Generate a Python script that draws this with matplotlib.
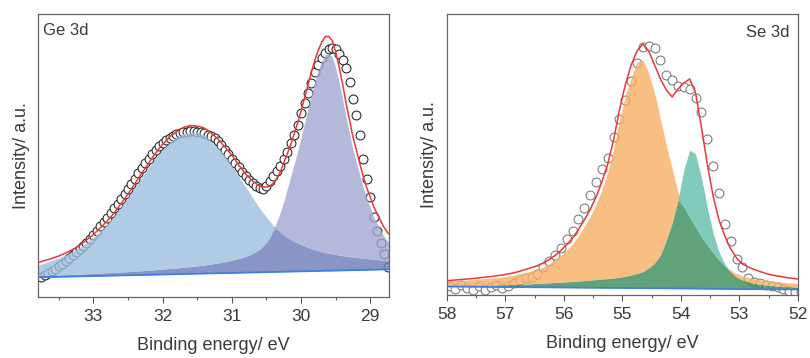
#!/usr/bin/env python3
"""Ge 3d / Se 3d XPS fits, two panels side by side."""

import numpy as np
import matplotlib

matplotlib.use("Agg")
import matplotlib.pyplot as plt
from matplotlib.ticker import MultipleLocator

# ---- Ge 3d --------------------------------------------------------------
GE_DATA_E = [
    33.75, 33.70, 33.65, 33.60, 33.55, 33.50, 33.45, 33.40, 33.35, 33.30,
    33.25, 33.20, 33.15, 33.10, 33.05, 33.00, 32.95, 32.90, 32.85, 32.80,
    32.75, 32.70, 32.65, 32.60, 32.55, 32.50, 32.45, 32.40, 32.35, 32.30,
    32.25, 32.20, 32.15, 32.10, 32.05, 32.00, 31.95, 31.90, 31.85, 31.80,
    31.75, 31.70, 31.65, 31.60, 31.55, 31.50, 31.45, 31.40, 31.35, 31.30,
    31.25, 31.20, 31.15, 31.10, 31.05, 31.00, 30.95, 30.90, 30.85, 30.80,
    30.75, 30.70, 30.65, 30.60, 30.55, 30.50, 30.45, 30.40, 30.35, 30.30,
    30.25, 30.20, 30.15, 30.10, 30.05, 30.00, 29.95, 29.90, 29.85, 29.80,
    29.75, 29.70, 29.65, 29.60, 29.55, 29.50, 29.45, 29.40, 29.35, 29.30,
    29.25, 29.20, 29.15, 29.10, 29.05, 29.00, 28.95, 28.90, 28.85, 28.80,
    28.75,
]
GE_DATA = [
    20, 22, 23.5, 25.5, 28, 30.5, 33, 36, 38.5, 41.5,
    44.5, 47.5, 50.5, 54, 58, 62, 66, 70.5, 74.5, 79,
    84, 88.5, 93, 98, 103, 108, 113, 118, 123.5, 129,
    134, 138, 143, 147, 151, 154, 157, 159, 161, 162.5,
    164, 164.5, 165, 165.5, 165.5, 165, 164.5, 163.5, 162, 160.5,
    158.5, 155.5, 151.5, 147, 142.5, 138, 134, 129.5, 125, 121,
    117, 113.5, 110.5, 108.5, 108, 111, 116, 121, 125.5, 131,
    138, 145, 154, 162, 172, 184, 194, 204, 214, 225,
    232, 239, 244, 247.5, 249, 247.5, 243, 237, 229, 215,
    198, 182, 162, 138, 118, 100, 80, 66, 54, 43,
    30,
]
GE_CURVE_E = [
    33.8, 33.7, 33.6, 33.5, 33.4, 33.3, 33.2, 33.1, 33.0, 32.9,
    32.8, 32.7, 32.6, 32.5, 32.4, 32.3, 32.2, 32.1, 32.0, 31.9,
    31.8, 31.7, 31.6, 31.5, 31.4, 31.3, 31.2, 31.1, 31.0, 30.9,
    30.8, 30.7, 30.6, 30.55, 30.5, 30.45, 30.4, 30.35, 30.3, 30.25,
    30.2, 30.15, 30.1, 30.05, 30.0, 29.95, 29.9, 29.85, 29.8, 29.75,
    29.7, 29.65, 29.6, 29.55, 29.5, 29.45, 29.4, 29.35, 29.3, 29.25,
    29.2, 29.15, 29.1, 29.05, 29.0, 28.95, 28.9, 28.85, 28.8, 28.75,
    28.7,
]
GE_FIT = [
    34.3, 36.5, 38.5, 41, 44, 47.5, 51.5, 57, 62.5, 69,
    76, 84, 93.5, 103, 113.5, 124, 134, 144, 152.5, 160,
    165.5, 169.5, 171.5, 171, 169, 164, 158, 150, 142, 132,
    123, 116, 111, 110, 110, 111, 114, 118.5, 125, 134,
    143, 152, 163, 174, 186, 199, 212, 225, 237, 247,
    255, 260.5, 260.5, 256.5, 245, 230, 213, 194, 177, 160,
    147, 133, 120.3, 109, 100, 90.3, 83, 76, 69.5, 64.5,
    61,
]
GE_PEAK1 = [
    32, 34, 36.5, 39, 42, 45.5, 49.5, 54.5, 60, 66,
    73, 81, 90, 99.5, 109.5, 119.5, 129.5, 139, 147.5, 154.5,
    160, 163.5, 165, 164.5, 162, 156, 149, 141, 131, 120.5,
    110, 99.5, 89, 84.5, 80, 75.5, 71.5, 68, 65, 62,
    59.5, 57.5, 55.5, 54, 52.5, 51, 49.5, 48.3, 47.2, 46.2,
    45.3, 44.5, 43.8, 43.1, 42.5, 41.9, 41.3, 40.8, 40.3, 39.9,
    39.5, 39.1, 38.7, 38.4, 38.1, 37.8, 37.5, 37.2, 36.9, 36.7,
    36.5,
]
GE_PEAK2 = [
    21.2, 21.5, 21.7, 22.0, 22.3, 22.5, 22.8, 23.2, 23.5, 23.9,
    24.3, 24.6, 25.0, 25.4, 25.9, 26.3, 26.8, 27.3, 27.9, 28.5,
    29.0, 29.7, 30.4, 31.2, 32.0, 33.0, 34.1, 35.3, 36.8, 38.5,
    40.6, 43.6, 47.7, 50.8, 54.9, 60, 67, 75.5, 84.3, 95.3,
    107.9, 120, 133, 145.6, 159.2, 173.8, 188.4, 202.7, 216.1, 227.2,
    236.3, 242.4, 243.2, 240, 229.1, 214.7, 198.5, 179.9, 163.7, 147.1,
    134.7, 121.3, 109, 98.1, 89.6, 80.2, 73.3, 66.7, 60.6, 55.8,
    52.6,
]
GE_BASE_E = [33.8, 28.7]
GE_BASE = [19.7, 27.7]

# ---- Se 3d --------------------------------------------------------------
SE_E = [
    58.05, 57.95, 57.85, 57.75, 57.65, 57.55, 57.45, 57.35, 57.25, 57.15,
    57.05, 56.95, 56.85, 56.75, 56.65, 56.55, 56.45, 56.35, 56.25, 56.15,
    56.05, 55.95, 55.85, 55.75, 55.65, 55.55, 55.45, 55.35, 55.25, 55.15,
    55.05, 54.95, 54.85, 54.75, 54.65, 54.55, 54.45, 54.35, 54.25, 54.15,
    54.05, 53.95, 53.85, 53.75, 53.65, 53.55, 53.45, 53.35, 53.25, 53.15,
    53.05, 52.95, 52.85, 52.75, 52.65, 52.55, 52.45, 52.35, 52.25, 52.15,
    52.05, 51.95,
]
SE_DATA = [
    8, 9, 6, 10, 7, 5, 9, 5, 8, 10,
    7, 9, 12, 15, 17, 18, 21, 28, 34, 40,
    47, 56, 64, 76, 87, 100, 113, 126, 137, 158,
    176, 195, 214, 232, 248, 248.5, 246.5, 235, 220, 215,
    209, 208, 206, 197, 183, 156, 129, 102, 71, 54,
    36, 28, 17, 13, 12, 10, 9, 8, 6, 4,
    3, 3,
]
SE_FIT = [
    14.0, 14.5, 15.0, 15.5, 16.0, 16.5, 17.1, 17.8, 18.4, 19.2,
    20.0, 21.0, 22.2, 23.8, 25.6, 27.4, 29.3, 32, 35.5, 39.5,
    44.5, 50.5, 57, 65.5, 75, 85.5, 98, 113, 131, 155,
    185, 210, 230, 244, 251, 244, 230, 216, 205, 198,
    206, 212, 216, 202, 168, 131, 99, 75, 59, 46,
    37, 31, 28, 25.5, 23.5, 21.5, 20, 19, 18, 17,
    16.3, 15.6,
]
SE_PEAK1 = [
    13.3, 13.8, 14.2, 14.6, 15.0, 15.4, 15.9, 16.5, 16.9, 17.5,
    18, 18.8, 19.8, 21.2, 22.7, 24.2, 25.8, 28.2, 31.4, 35.1,
    39.7, 45.3, 51.4, 59.5, 68.6, 78.6, 90.6, 105, 122.6, 146,
    175, 199, 217.5, 233, 235, 222, 202, 176, 150, 126,
    103, 88, 78, 68, 58, 50, 42, 35, 29, 25,
    21.5, 19, 17.5, 16.2, 15.2, 14.4, 13.7, 13.1, 12.6, 12.1,
    11.7, 11.3,
]
SE_PEAK2 = [
    9.0, 9.0, 9.1, 9.2, 9.3, 9.4, 9.5, 9.6, 9.8, 10.0,
    10.2, 10.4, 10.6, 10.8, 11.0, 11.3, 11.6, 11.9, 12.2, 12.5,
    12.8, 13.2, 13.6, 14.0, 14.4, 14.9, 15.4, 15.9, 16.4, 17.0,
    17.8, 18.8, 20, 21.5, 23.5, 27, 32, 40, 55, 72,
    95, 125, 145, 141, 118, 88, 62, 43, 31, 23,
    18, 15, 13, 11.8, 10.8, 10, 9.4, 8.9, 8.5, 8.1,
    7.8, 7.5,
]
SE_BASE_E = [58.0, 52.0]
SE_BASE = [8.5, 5.5]

FONT = ["Liberation Sans", "DejaVu Sans"]
TXT = "#3a3a3a"
FIT_COLOR = "#e8383d"
BASE_COLOR = "#3a82dc"


def panel(ax, data_e, data, curve_e, fit, p1, p2, base_e, base,
          colors, edge, xlim, ylim, ticks, label, label_right):
    curve_e = np.asarray(curve_e)
    p1 = np.asarray(p1)
    p2 = np.asarray(p2)
    bottom = np.interp(curve_e, base_e[::-1], base[::-1])
    low = np.minimum(p1, p2)

    ax.plot(data_e, data, "o", ms=6.4, mfc="white", mec=edge, mew=0.75,
            zorder=1)
    ax.fill_between(curve_e, bottom, low, color=colors[2], alpha=0.8,
                    lw=0, zorder=2)
    ax.fill_between(curve_e, low, p1, color=colors[0], alpha=0.8,
                    lw=0, zorder=2)
    ax.fill_between(curve_e, low, p2, color=colors[1], alpha=0.8,
                    lw=0, zorder=2)
    ax.plot(base_e, base, color=BASE_COLOR, lw=1.3, zorder=3)
    ax.plot(curve_e, fit, color=FIT_COLOR, lw=1.1, zorder=4)

    ax.set_xlim(*xlim)
    ax.set_ylim(*ylim)
    ax.set_xticks(ticks)
    ax.xaxis.set_minor_locator(MultipleLocator(0.5))
    ax.set_yticks([])
    ax.tick_params(axis="x", which="major", length=4, width=0.8,
                   direction="out", colors="#555555", labelcolor=TXT,
                   labelsize=12.5, pad=5)
    ax.tick_params(axis="x", which="minor", length=2.5, width=0.8,
                   direction="out", colors="#555555")
    for lab in ax.get_xticklabels():
        lab.set_family(FONT)
    for s in ax.spines.values():
        s.set_color("#666666")
        s.set_linewidth(0.9)
    ax.set_xlabel("Binding energy/ eV", fontsize=13, color=TXT,
                  family=FONT, labelpad=9)
    ax.set_ylabel("Intensity/ a.u.", fontsize=13, color=TXT,
                  family=FONT, labelpad=6)
    if label_right:
        ax.text(0.975, 0.962, label, transform=ax.transAxes, ha="right",
                va="top", fontsize=12, color=TXT, family=FONT)
    else:
        ax.text(0.015, 0.968, label, transform=ax.transAxes, ha="left",
                va="top", fontsize=12, color=TXT, family=FONT)


fig = plt.figure(figsize=(8.10, 3.58), dpi=100)
ax1 = fig.add_axes([0.0469, 0.1704, 0.4333, 0.7905])
ax2 = fig.add_axes([0.5515, 0.176, 0.4337, 0.785])

panel(ax1, GE_DATA_E, GE_DATA, GE_CURVE_E, GE_FIT, GE_PEAK1, GE_PEAK2,
      GE_BASE_E, GE_BASE, ("#9cbedc", "#a1a6d3", "#6d7bba"), "#222222",
      (33.80, 28.73), (0, 283), [33, 32, 31, 30, 29], "Ge 3d", False)
panel(ax2, SE_E, SE_DATA, SE_E, SE_FIT, SE_PEAK1, SE_PEAK2,
      SE_BASE_E, SE_BASE, ("#f8ae63", "#63beab", "#388c59"), "#777777",
      (58.0, 52.0), (0, 281), [58, 57, 56, 55, 54, 53, 52], "Se 3d", True)

fig.savefig("out.png", dpi=100)
